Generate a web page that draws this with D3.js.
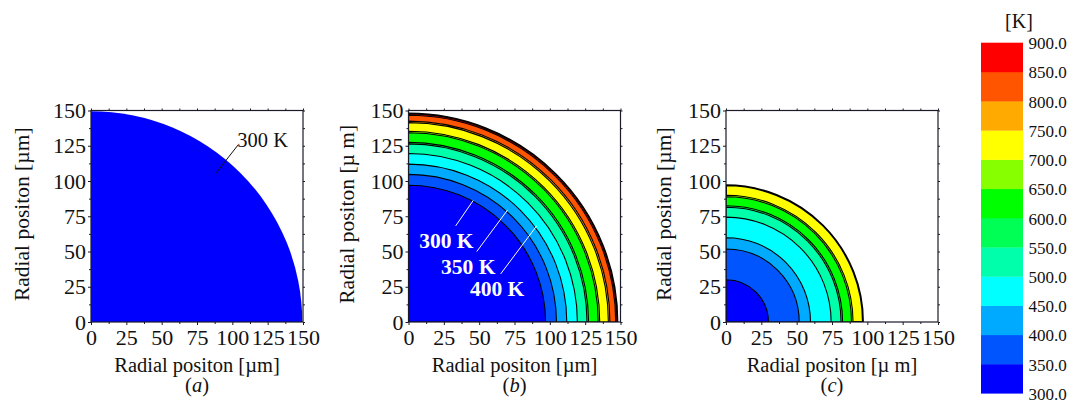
<!DOCTYPE html>
<html lang="en">
<head>
<meta charset="UTF-8">
<title>Radial temperature contours</title>
<script src="https://d3js.org/d3.v7.min.js"></script>
<style>
  body { margin: 0; background: #fff; }
  svg { display: block; font-family: "Liberation Serif", "Times New Roman", serif; }
</style>
</head>
<body>
<svg width="1069" height="403"></svg>
<script>
// temperature bands (lower bound) and their colours
const bandLower = [300, 350, 400, 450, 500, 550, 600, 650, 700, 750, 800, 850];
const bandColors = ["#0000ff", "#0055ff", "#00aaff", "#00ffff", "#00ffaa", "#00ff55",
                    "#00ff00", "#88ff00", "#ffff00", "#ffaa00", "#ff5500", "#ff0000"];
const cbTicks = [300, 350, 400, 450, 500, 550, 600, 650, 700, 750, 800, 850, 900];

// contour levels [K] and radii [um]
const levelsA = [];
const radiiA = [];
const edgeA = 149.5;

const levelsB = [350, 400, 450, 500, 550, 600, 650, 700, 750, 800, 850];
const radiiB = [97, 104.7, 112, 119.5, 126.3, 127.4, 134.2, 135.3, 141.4, 142.5, 146.6];
const edgeB = 147.8;

const levelsC = [350, 400, 450, 500, 550, 600, 650, 700];
const radiiC = [30, 51.8, 59.8, 74.4, 81.4, 82.5, 88.8, 89.9];
const edgeC = 96.9;

const axisTicks = [0, 25, 50, 75, 100, 125, 150];
const minorTicks = [12.5, 37.5, 62.5, 87.5, 112.5, 137.5];

const svg = d3.select("svg");
const color = d3.scaleThreshold().domain(bandLower.slice(1)).range(bandColors);

const panels = [
  { left: 91, levels: levelsA, radii: radiiA, edge: edgeA, edgeStroke: 0,
    xLabel: "Radial positon [\u00b5m]", yLabel: "Radial positon [\u00b5m]", yOff: -62, tag: "a" },
  { left: 408.5, levels: levelsB, radii: radiiB, edge: edgeB, edgeStroke: 2,
    xLabel: "Radial positon [\u00b5m]", yLabel: "Radial positon [\u00b5 m]", yOff: -54.5, tag: "b" },
  { left: 726, levels: levelsC, radii: radiiC, edge: edgeC, edgeStroke: 2,
    xLabel: "Radial positon [\u00b5 m]", yLabel: "Radial positon [\u00b5m]", yOff: -55, tag: "c" }
];
const plotTop = 110.5, w = 212, h = 211.5;

// annotations in data coordinates
const notesA = [{ text: "300 K", x: 103.5, y: 124, lx1: 104, ly1: 125.5, lx2: 88.7, ly2: 105.9 }];
const notesB = [
  { text: "300 K", x: 7.6, y: 52.4, lx1: 33.4, ly1: 68.2, lx2: 45.8, ly2: 86.2 },
  { text: "350 K", x: 23.0, y: 34.1, lx1: 48.3, ly1: 50.0, lx2: 70.2, ly2: 79.6 },
  { text: "400 K", x: 43.5, y: 18.5, lx1: 65.2, ly1: 34.1, lx2: 90.7, ly2: 68.2 }
];

function quarter(x, y, r) {
  const cx = x(0), cy = y(0), rx = x(r) - x(0), ry = y(0) - y(r);
  return `M${cx},${cy}L${cx + rx},${cy}A${rx},${ry} 0 0 0 ${cx},${cy - ry}Z`;
}

panels.forEach((p, i) => {
  const x = d3.scaleLinear().domain([0, 150]).range([p.left, p.left + w]);
  const y = d3.scaleLinear().domain([0, 150]).range([plotTop + h, plotTop]);
  const g = svg.append("g");

  g.append("clipPath").attr("id", "clip" + i)
    .append("rect").attr("x", p.left).attr("y", plotTop).attr("width", w).attr("height", h);
  const plot = g.append("g").attr("clip-path", `url(#clip${i})`);

  // outer particle, then each contour from outside in
  const n = p.levels.length;
  const outerTemp = n ? p.levels[n - 1] : 300;
  plot.append("path").attr("d", quarter(x, y, p.edge))
    .attr("fill", color(outerTemp))
    .attr("stroke", p.edgeStroke ? "#000" : "none")
    .attr("stroke-width", p.edgeStroke);
  for (let k = n - 1; k >= 0; k--) {
    plot.append("path").attr("d", quarter(x, y, p.radii[k]))
      .attr("fill", color(p.levels[k] - 1))
      .attr("stroke", "#000").attr("stroke-width", 1.1);
  }

  // frame
  g.append("rect").attr("x", p.left).attr("y", plotTop).attr("width", w).attr("height", h)
    .attr("fill", "none").attr("stroke", "#1a1a28").attr("stroke-width", 1.2);

  const styleAxis = sel => {
    sel.select(".domain").remove();
    sel.selectAll("line").attr("stroke", "#1a1a28");
    sel.selectAll("text").attr("font-size", 22).attr("fill", "#111")
      .attr("font-family", "Liberation Serif, Times New Roman, serif");
  };
  g.append("g").attr("transform", `translate(0,${plotTop + h})`)
    .call(d3.axisBottom(x).tickValues(axisTicks).tickSize(3).tickPadding(4).tickFormat(d3.format("d")))
    .call(styleAxis);
  g.append("g").attr("transform", `translate(${p.left},0)`)
    .call(d3.axisLeft(y).tickValues(axisTicks).tickSize(3).tickPadding(2).tickFormat(d3.format("d")))
    .call(styleAxis);
  g.append("g").attr("transform", `translate(0,${plotTop + h})`)
    .call(d3.axisBottom(x).tickValues(minorTicks).tickSize(2).tickFormat(""))
    .call(styleAxis);
  g.append("g").attr("transform", `translate(${p.left},0)`)
    .call(d3.axisLeft(y).tickValues(minorTicks).tickSize(2).tickFormat(""))
    .call(styleAxis);
  g.append("g").attr("transform", `translate(${p.left + w},0)`)
    .call(d3.axisRight(y).tickValues(axisTicks.concat(minorTicks)).tickSize(2).tickFormat(""))
    .call(styleAxis);
  g.append("g").attr("transform", `translate(0,${plotTop})`)
    .call(d3.axisTop(x).tickValues(axisTicks.concat(minorTicks)).tickSize(2).tickFormat(""))
    .call(styleAxis);

  // axis titles
  g.append("text").attr("x", p.left + w / 2).attr("y", 372)
    .attr("text-anchor", "middle").attr("font-size", 20.5).attr("fill", "#111").text(p.xLabel);
  g.append("text").attr("transform", `translate(${p.left + p.yOff},${plotTop + h / 2 - 2}) rotate(-90)`)
    .attr("text-anchor", "middle").attr("font-size", 21.5).attr("fill", "#111").text(p.yLabel);

  const tag = g.append("text").attr("x", p.left + w / 2).attr("y", 392)
    .attr("text-anchor", "middle").attr("font-size", 20.5).attr("fill", "#111");
  tag.append("tspan").text("(");
  tag.append("tspan").attr("font-style", "italic").text(p.tag);
  tag.append("tspan").text(")");

  // annotations
  const notes = i === 0 ? notesA : i === 1 ? notesB : [];
  const ink = i === 0 ? "#111" : "#fff";
  notes.forEach(nt => {
    g.append("line").attr("x1", x(nt.lx1)).attr("y1", y(nt.ly1))
      .attr("x2", x(nt.lx2)).attr("y2", y(nt.ly2))
      .attr("stroke", ink).attr("stroke-width", 1);
    g.append("text").attr("x", x(nt.x)).attr("y", y(nt.y))
      .attr("font-size", i === 0 ? 20.5 : 21.5).attr("font-weight", i === 0 ? "normal" : "bold")
      .attr("fill", ink).text(nt.text);
  });
});

// colour bar
const cb = d3.scaleLinear().domain([300, 900]).range([393.3, 42.7]);
const cbX = 981, cbW = 42;
svg.append("g").selectAll("rect").data(bandLower).join("rect")
  .attr("x", cbX).attr("width", cbW)
  .attr("y", d => cb(d + 50)).attr("height", d => cb(d) - cb(d + 50) + 0.3)
  .attr("fill", d => color(d));
svg.append("g").selectAll("text").data(cbTicks).join("text")
  .attr("x", 1028.5).attr("y", d => cb(d) + 1)
  .attr("dominant-baseline", "central")
  .attr("font-size", 17).attr("fill", "#111")
  .text(d3.format(".1f"));
svg.append("text").attr("x", 1019).attr("y", 28).attr("text-anchor", "middle")
  .attr("font-size", 20).attr("fill", "#111").text("[K]");
</script>
</body>
</html>
